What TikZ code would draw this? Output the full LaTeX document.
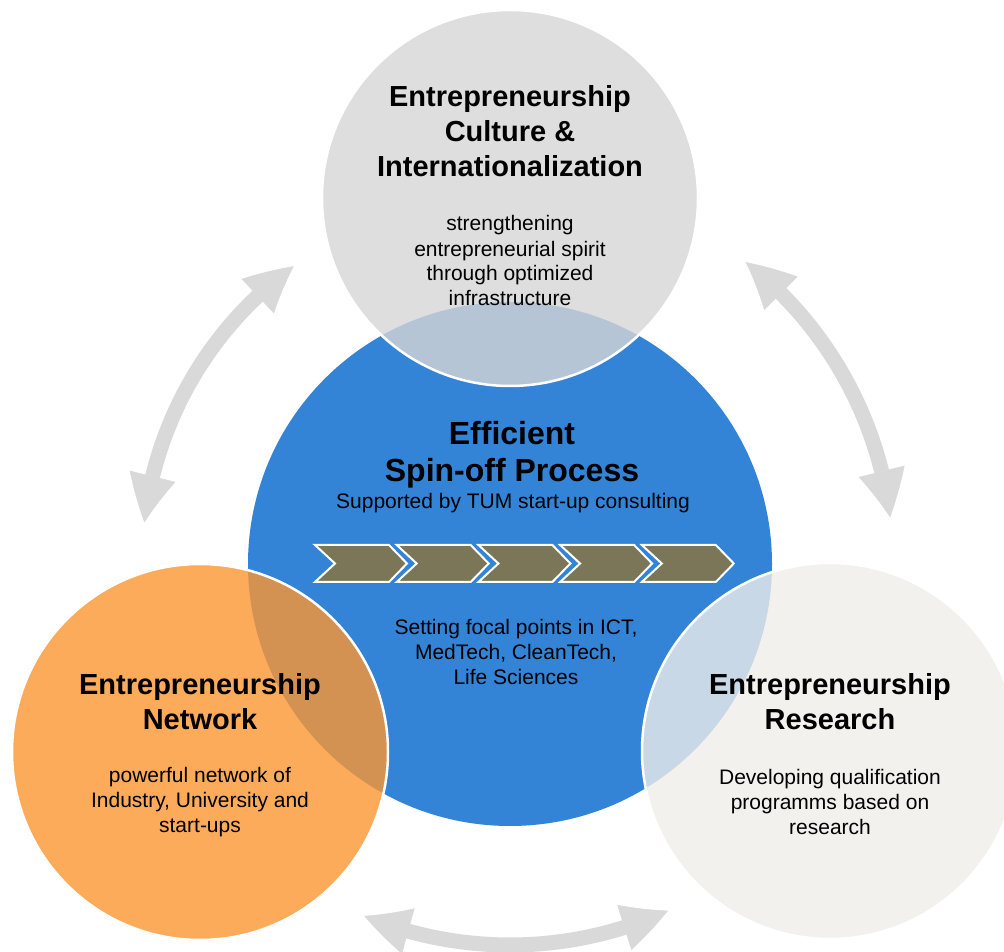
\documentclass[tikz,border=0pt]{standalone}
\usepackage{fontspec}
\setmainfont{Liberation Sans}
\usetikzlibrary{arrows.meta, bending, positioning, calc}
\definecolor{spinblue}{HTML}{3383D6}
\definecolor{culturegrey}{HTML}{D6D6D6}
\definecolor{netorange}{HTML}{FC9631}
\definecolor{researchgrey}{HTML}{EFEEEA}
\definecolor{arrowgrey}{HTML}{D9D9D9}
\definecolor{chevronolive}{HTML}{7B7658}
\tikzset{
  bigcircle/.style={circle, inner sep=0pt, minimum size=376pt, draw=white, line width=2.5pt, fill opacity=0.8},
  titletext/.style={align=center, inner sep=0pt, font=\fontsize{29}{35}\selectfont\bfseries},
  bodytext/.style={align=center, inner sep=0pt, font=\fontsize{21}{25}\selectfont},
  cyclearrow/.style={draw=arrowgrey, line width=15pt,
    arrows={Triangle[length=47pt,width=47pt,line width=0.5pt,bend]-Triangle[length=47pt,width=47pt,line width=0.5pt,bend]}},
  chevron/.style={fill=chevronolive, draw=white, line width=2pt, line join=miter}
}

\begin{document}
\begin{tikzpicture}[x=1pt, y=1pt]
    \fill[white] (0,0) rectangle (1004,951);
    \useasboundingbox (0,0) rectangle (1004,951);

    \node (spin) [circle, fill=spinblue, inner sep=0pt, minimum size=524pt] at (510,387) {};

    \coordinate (cyc-left) at ($(spin.center)+(126:368pt)$);
    \coordinate (cyc-right) at ($(spin.center)+(52:383pt)$);
    \coordinate (cyc-bottom) at ($(spin.center)+(247.5:381pt)$);
    \draw [cyclearrow] (cyc-left) arc [start angle=126, end angle=173.5, radius=368pt];
    \draw [cyclearrow] (cyc-right) arc [start angle=52, end angle=7, radius=383pt];
    \draw [cyclearrow] (cyc-bottom) arc [start angle=247.5, end angle=294.5, radius=381pt];

    \node (culture) [bigcircle, fill=culturegrey] at (510,753) {};
    \node (network) [bigcircle, fill=netorange] at (200,199) {};
    \node (research) [bigcircle, fill=researchgrey] at (830,200) {};

    \foreach \i in {0,...,4}
        \draw [chevron] (315+\i*81.7,406) -- ++(74,0) -- ++(18,-18.5) -- ++(-18,-18.5)
            -- ++(-74,0) -- ++(20,18.5) -- cycle;

    \node (spin-title) [titletext, font=\fontsize{32}{37}\selectfont\bfseries] at ([xshift=2pt, yshift=109pt]spin.center) {Efficient\\Spin-off Process};
    \node (spin-sub) [bodytext] at ([xshift=3pt, yshift=61pt]spin.center) {Supported by TUM start-up consulting};
    \node (spin-body) [bodytext] at ([xshift=6pt, yshift=-88pt]spin.center) {Setting focal points in ICT,\\MedTech, CleanTech,\\Life Sciences};

    \node (culture-title) [titletext] at ([yshift=67pt]culture.center) {Entrepreneurship\\Culture \&\\Internationalization};
    \node (culture-body) [bodytext] at ([yshift=-63pt]culture.center) {strengthening\\entrepreneurial spirit\\through optimized\\infrastructure};

    \node (network-title) [titletext] at ([yshift=50pt]network.center) {Entrepreneurship\\Network};
    \node (network-body) [bodytext] at ([yshift=-50pt]network.center) {powerful network of\\Industry, University and\\start-ups};

    \node (research-title) [titletext] at ([yshift=49pt]research.center) {Entrepreneurship\\Research};
    \node (research-body) [bodytext] at ([yshift=-51pt]research.center) {Developing qualification\\programms based on\\research};
\end{tikzpicture}
\end{document}
